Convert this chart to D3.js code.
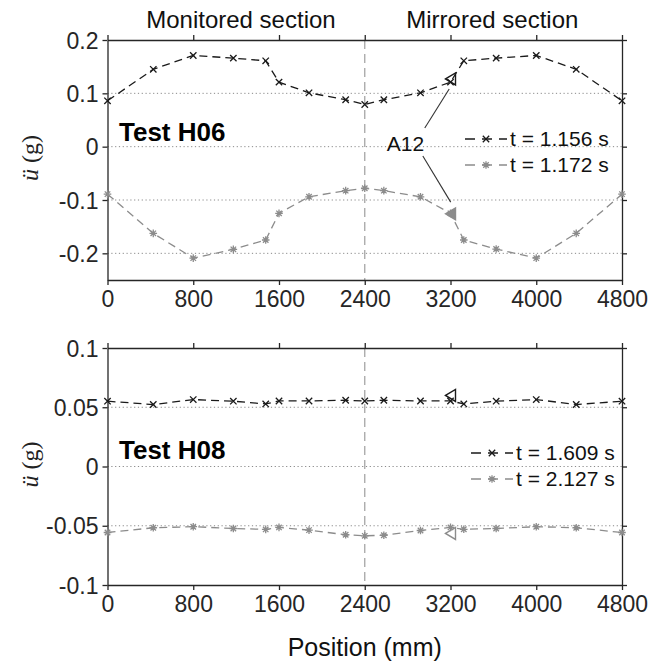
<!DOCTYPE html>
<html>
<head>
<meta charset="utf-8">
<script src="https://cdn.jsdelivr.net/npm/d3@7"></script>
<style>
  html, body { margin: 0; padding: 0; background: #fff; }
  svg { display: block; }
  text { font-family: "Liberation Sans", Arial, sans-serif; }
</style>
</head>
<body>
<div id="chart"></div>
<script>
// ---------------- DATA ----------------
const positions = [0, 427, 800, 1174, 1476, 1600, 1880, 2222, 2400, 2578, 2920, 3200, 3324, 3626, 4000, 4373, 4800];

const h06_t1156 = [0.086, 0.145, 0.171, 0.166, 0.161, 0.121, 0.101, 0.088, 0.079, 0.088, 0.101, 0.121, 0.161, 0.166, 0.171, 0.145, 0.086];
const h06_t1172 = [-0.089, -0.1625, -0.209, -0.1925, -0.175, -0.125, -0.094, -0.0825, -0.078, -0.0825, -0.094, -0.125, -0.175, -0.192, -0.209, -0.1625, -0.089];
const h08_t1609 = [0.0551, 0.0523, 0.0565, 0.0551, 0.0528, 0.0553, 0.0553, 0.0559, 0.0553, 0.0559, 0.0553, 0.0553, 0.0528, 0.0551, 0.0565, 0.0523, 0.0551];
const h08_t2127 = [-0.0557, -0.0517, -0.0508, -0.0523, -0.0531, -0.0514, -0.0537, -0.0576, -0.0585, -0.058, -0.054, -0.0514, -0.053, -0.0523, -0.0508, -0.0517, -0.0557];

// A12 sensor readings at 3200 mm
const a12Position = 3200;
const a12_h06 = [0.127, -0.126];
const a12_h08 = [0.060, -0.0565];

const xTicks = [0, 800, 1600, 2400, 3200, 4000, 4800];
const xTickLabels = ["0", "800", "1600", "2400", "3200", "4000", "4800"];
const yTicksTop = [0.2, 0.1, 0, -0.1, -0.2];
const yTickLabelsTop = ["0.2", "0.1", "0", "-0.1", "-0.2"];
const yTicksBot = [0.1, 0.05, 0, -0.05, -0.1];
const yTickLabelsBot = ["0.1", "0.05", "0", "-0.05", "-0.1"];

const legendTop = ["t = 1.156 s", "t = 1.172 s"];
const legendBot = ["t = 1.609 s", "t = 2.127 s"];
const panelTitles = ["Test H06", "Test H08"];
const sectionLabels = ["Monitored section", "Mirrored section"];
const xLabel = "Position (mm)";
const midPosition = 2400;

// ---------------- LAYOUT ----------------
const W = 650, H = 663;
const BLACK = "#1a1a1a", GRAY = "#8c8c8c", AXIS = "#262626";

const svg = d3.select("#chart").append("svg").attr("width", W).attr("height", H);

const x = d3.scaleLinear().domain([0, 4800]).range([107.5, 622]);
const yTop = d3.scaleLinear().domain([-0.25, 0.2]).range([280, 40]);
const yBot = d3.scaleLinear().domain([-0.1, 0.1]).range([585, 348]);

function marker(g, type, cx, cy, color) {
  const s = type === "x" ? 3.2 : 3.8;
  if (type === "x") {
    g.append("path").attr("d", `M${cx - s},${cy - s}L${cx + s},${cy + s}M${cx - s},${cy + s}L${cx + s},${cy - s}`)
      .attr("stroke", color).attr("stroke-width", 1.3).attr("fill", "none");
  } else {
    const d = s * 0.72;
    g.append("path").attr("d",
      `M${cx - s},${cy}L${cx + s},${cy}M${cx},${cy - s}L${cx},${cy + s}` +
      `M${cx - d},${cy - d}L${cx + d},${cy + d}M${cx - d},${cy + d}L${cx + d},${cy - d}`)
      .attr("stroke", color).attr("stroke-width", 1.3).attr("fill", "none");
  }
}

function triangle(g, cx, cy, color, filled, size) {
  const w = size, h = size * 0.6;
  g.append("path").attr("d", `M${cx - w / 2},${cy}L${cx + w / 2},${cy - h}L${cx + w / 2},${cy + h}Z`)
    .attr("fill", filled ? color : "none").attr("stroke", color).attr("stroke-width", 1.4);
}

function panel(y, yTicks, yLabels, s1, s2, a12, title, legend, legendX, legendY, titleY, grayFilled) {
  const g = svg.append("g");
  const [x0, x1] = x.range();
  const [yb, yt] = y.range();

  // grid dotted lines
  yTicks.forEach(v => {
    if (Math.abs(y(v) - yt) < 1 || Math.abs(y(v) - yb) < 1) return;
    g.append("line").attr("x1", x0).attr("x2", x1).attr("y1", y(v)).attr("y2", y(v))
      .attr("stroke", "#8a8a8a").attr("stroke-width", 1).attr("stroke-dasharray", "1.2,2.6");
  });

  // vertical dashed mid-line
  g.append("line").attr("x1", x(midPosition)).attr("x2", x(midPosition)).attr("y1", yt).attr("y2", yb)
    .attr("stroke", "#a6a6a6").attr("stroke-width", 1.3).attr("stroke-dasharray", "9,5");

  // axes
  const axB = d3.axisBottom(x).tickValues(xTicks).tickSize(5).tickSizeOuter(0).tickFormat((d, i) => xTickLabels[i]);
  const axT = d3.axisTop(x).tickValues(xTicks).tickSize(5).tickSizeOuter(0).tickFormat("");
  const axL = d3.axisLeft(y).tickValues(yTicks).tickSize(5).tickSizeOuter(0).tickFormat((d, i) => yLabels[i]);
  const axR = d3.axisRight(y).tickValues(yTicks).tickSize(5).tickSizeOuter(0).tickFormat("");

  const gb = g.append("g").attr("transform", `translate(0,${yb})`).call(axB);
  const gt = g.append("g").attr("transform", `translate(0,${yt})`).call(axT);
  const gl = g.append("g").attr("transform", `translate(${x0},0)`).call(axL);
  const gr = g.append("g").attr("transform", `translate(${x1},0)`).call(axR);
  [gb, gt, gl, gr].forEach(a => {
    a.select(".domain").attr("stroke", AXIS).attr("stroke-width", 1.3);
    a.selectAll(".tick line").attr("stroke", AXIS).attr("stroke-width", 1.3);
    a.selectAll("text").attr("fill", AXIS).style("font-size", "23px").style("font-family", '"Liberation Sans", Arial, sans-serif');
  });
  gb.selectAll("text").attr("dy", "0.96em").attr("y", 5);
  gl.selectAll("text").attr("x", -9).attr("dy", "0.35em");

  // series lines
  const pts = arr => arr.map((v, i) => ({ p: positions[i], v }));
  const line = d3.line().x(d => x(d.p)).y(d => y(d.v));
  g.append("path").attr("d", line(pts(s1))).attr("fill", "none").attr("stroke", BLACK)
    .attr("stroke-width", 1.3).attr("stroke-dasharray", "8,5");
  g.append("path").attr("d", line(pts(s2))).attr("fill", "none").attr("stroke", GRAY)
    .attr("stroke-width", 1.3).attr("stroke-dasharray", "8,5");
  pts(s1).forEach(d => marker(g, "x", x(d.p), y(d.v), BLACK));
  pts(s2).forEach(d => marker(g, "*", x(d.p), y(d.v), GRAY));

  // A12 triangles
  triangle(g, x(a12Position), y(a12[0]), BLACK, false, 10);
  triangle(g, x(a12Position), y(a12[1]), GRAY, grayFilled, 10);

  // title
  g.append("text").attr("x", 119).attr("y", titleY).text(title)
    .style("font-size", "26px").style("font-weight", "bold").attr("fill", "#000");

  // legend
  const colors = [BLACK, GRAY], types = ["x", "*"];
  legend.forEach((t, i) => {
    const ly = legendY + i * 26;
    g.append("line").attr("x1", legendX).attr("x2", legendX + 42).attr("y1", ly).attr("y2", ly)
      .attr("stroke", colors[i]).attr("stroke-width", 1.3).attr("stroke-dasharray", "10,7");
    marker(g, types[i], legendX + 21, ly, colors[i]);
    g.append("text").attr("x", legendX + 45).attr("y", ly).attr("dy", "0.35em").text(t)
      .style("font-size", "21px").attr("fill", "#111");
  });
  return g;
}

const gTop = panel(yTop, yTicksTop, yTickLabelsTop, h06_t1156, h06_t1172, a12_h06, panelTitles[0], legendTop, 465, 139, 141, true);
const gBot = panel(yBot, yTicksBot, yTickLabelsBot, h08_t1609, h08_t2127, a12_h08, panelTitles[1], legendBot, 471, 453, 459, false);

// A12 annotation (top panel)
gTop.append("text").attr("x", x(2780)).attr("y", yTop(-0.008)).attr("text-anchor", "middle")
  .text("A12").style("font-size", "21px").attr("fill", "#111");
gTop.append("line").attr("x1", x(2960)).attr("y1", yTop(0.035)).attr("x2", x(3188)).attr("y2", yTop(0.108))
  .attr("stroke", "#333").attr("stroke-width", 1.1);
gTop.append("line").attr("x1", x(2942)).attr("y1", yTop(-0.0175)).attr("x2", x(3202)).attr("y2", yTop(-0.104))
  .attr("stroke", "#333").attr("stroke-width", 1.1);

// section labels
svg.append("text").attr("x", x(1245)).attr("y", 28).attr("text-anchor", "middle").text(sectionLabels[0])
  .style("font-size", "24px").attr("fill", "#111");
svg.append("text").attr("x", x(3590)).attr("y", 28).attr("text-anchor", "middle").text(sectionLabels[1])
  .style("font-size", "24px").attr("fill", "#111");

// x label
svg.append("text").attr("x", x(2400)).attr("y", 656).attr("text-anchor", "middle").text(xLabel)
  .style("font-size", "25px").attr("fill", "#111");

// y labels
[[yTop, 0], [yBot, 1]].forEach(([y]) => {
  const cy = (y.range()[0] + y.range()[1]) / 2 - 2;
  const t = svg.append("text").attr("transform", `translate(38,${cy}) rotate(-90)`).attr("text-anchor", "middle")
    .style("font-family", '"Liberation Serif", "DejaVu Serif", serif').style("font-size", "24px").attr("fill", "#222");
  t.append("tspan").style("font-style", "italic").text("ü");
  t.append("tspan").text(" (g)");
});
</script>
</body>
</html>
